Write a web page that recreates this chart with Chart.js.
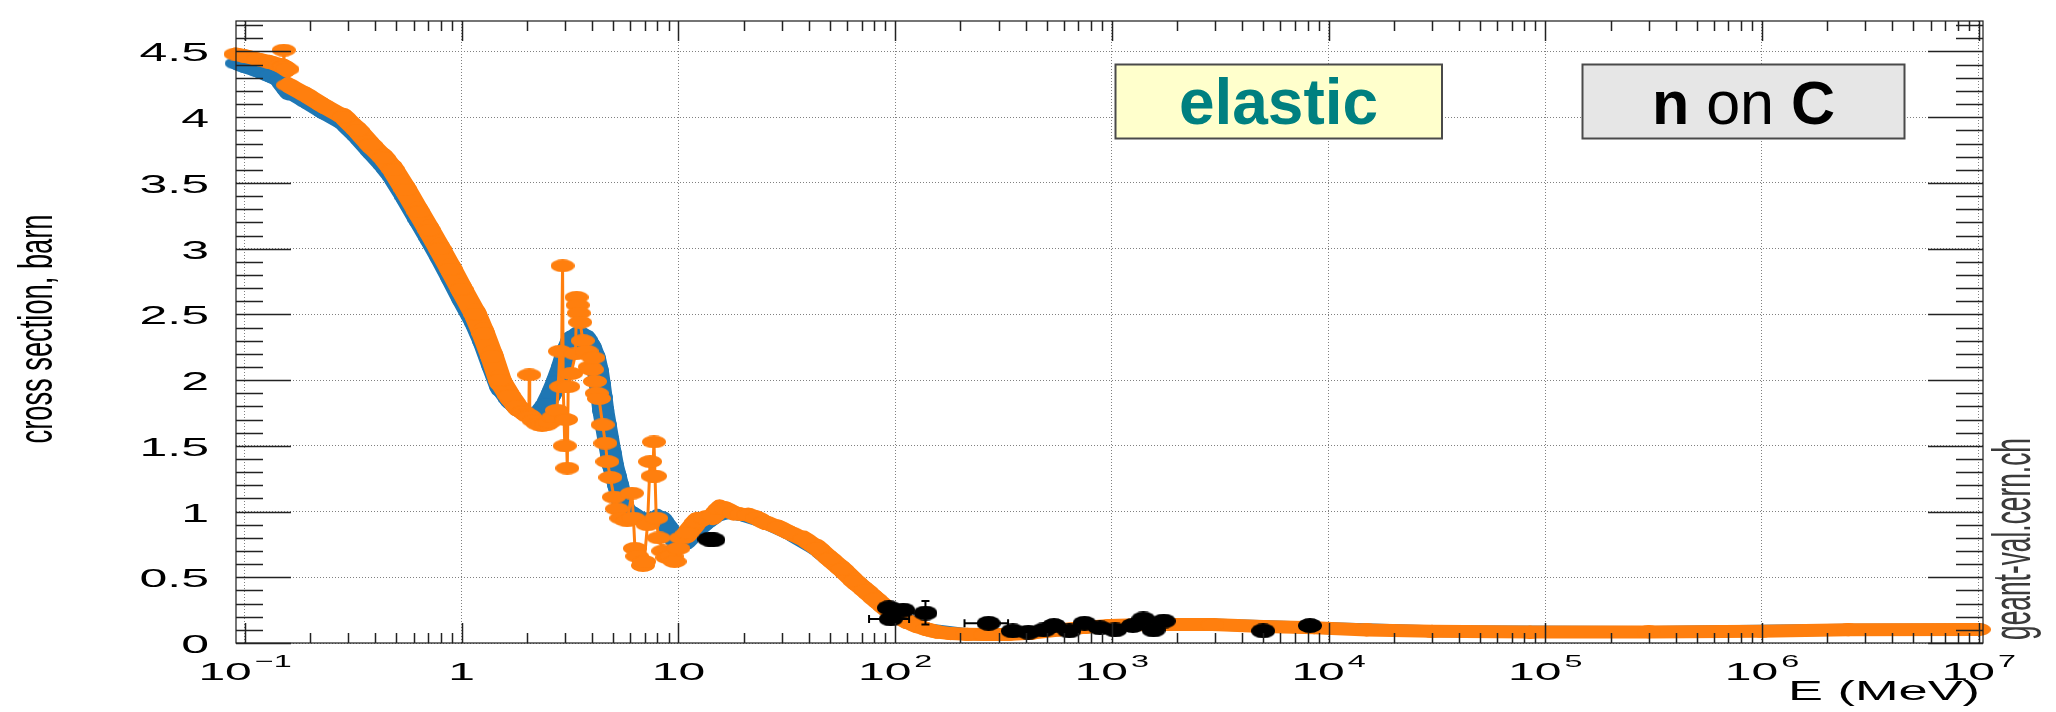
<!DOCTYPE html>
<html>
<head>
<meta charset="utf-8">
<script src="https://cdn.jsdelivr.net/npm/chart.js@4.4.0/dist/chart.umd.min.js"></script>
<style>
  html, body { margin: 0; padding: 0; background: #fff; overflow: hidden; }
  canvas { display: block; }
</style>
</head>
<body>
<canvas id="xs" width="2056" height="712"></canvas>
<script>
// Neutron elastic cross section on carbon. Energies in MeV, cross sections in barn.

// model curve (blue)
const modelEnergy = [0.0905, 0.100, 0.115, 0.130, 0.145, 0.158, 0.191, 0.229, 0.286, 0.331, 0.380, 0.437, 0.483,
  0.550, 0.631, 0.708, 0.791, 0.891, 1.00, 1.156, 1.259, 1.38, 1.50, 1.66, 1.80, 1.95, 2.10,
  2.30, 2.46, 2.60, 2.74, 2.90, 3.05, 3.20, 3.39, 3.60, 3.77, 3.95, 4.12, 4.25, 4.34, 4.42, 4.50, 4.62, 4.75, 4.88,
  5.00, 5.14, 5.28, 5.42, 5.56, 5.75, 5.97, 6.5, 7.0, 7.5, 8.0, 8.5, 9.0, 9.5, 10.2, 11.0, 12.0, 13.5, 15.0, 17.0,
  20.0, 25.0, 33.0, 44.0, 57.0, 73.0, 90.0, 112, 140, 215, 330, 570, 977, 2900, 8600, 30000, 3e5, 2.5e6, 1e7];
const modelXs = [4.41, 4.385, 4.35, 4.315, 4.28, 4.20, 4.12, 4.04, 3.95, 3.85, 3.74, 3.63, 3.54,
  3.39, 3.22, 3.08, 2.94, 2.78, 2.62, 2.43, 2.29, 2.11, 1.95, 1.85, 1.79, 1.76, 1.74,
  1.76, 1.82, 1.90, 1.99, 2.10, 2.22, 2.30, 2.34, 2.34, 2.31, 2.25, 2.17, 2.07, 1.97, 1.87, 1.77, 1.66, 1.545, 1.44,
  1.346, 1.27, 1.197, 1.12, 1.047, 1.01, 0.997, 0.96, 0.94, 0.95, 0.96, 0.93, 0.87, 0.80, 0.77, 0.78, 0.85, 0.92, 0.97, 0.99,
  0.97, 0.92, 0.83, 0.71, 0.56, 0.40, 0.27, 0.17, 0.105, 0.066, 0.065, 0.099, 0.133, 0.14, 0.116, 0.09, 0.084, 0.10, 0.103];

// evaluated data (orange)
const evalEnergy = [0.0905, 0.100, 0.115, 0.130, 0.145, 0.150, 0.151, 0.152, 0.157, 0.158,
  0.191, 0.229, 0.286, 0.331, 0.380, 0.437, 0.483, 0.550, 0.631, 0.708, 0.791, 0.891, 1.00, 1.156, 1.259, 1.38,
  1.50, 1.66, 1.80, 1.92, 2.00, 2.04, 2.05, 2.06, 2.15, 2.25, 2.35, 2.45, 2.55, 2.65, 2.75,
  2.84, 2.88, 2.92, 2.94, 2.99, 3.03, 3.07, 3.10, 3.20, 3.35, 3.39, 3.43, 3.47, 3.52, 3.62, 3.77, 3.90, 4.00, 4.05,
  4.12, 4.20, 4.30, 4.47, 4.60, 4.70, 4.85, 5.04, 5.20, 5.45, 5.80, 6.10, 6.20, 6.30, 6.45, 6.86, 6.95, 7.20, 7.40,
  7.60, 7.71, 7.80, 7.90, 8.10, 8.50, 8.89, 9.30, 9.60, 10.0, 10.3, 11.0, 12.1, 13.2, 14.5, 15.5, 16.5, 18.0, 19.5,
  21.0, 23.0, 25.0, 29.0, 33.0, 38.0, 44.0, 50.0, 57.0, 65.0, 73.0, 81.0, 90.0, 100, 112, 125, 140, 155, 180, 215,
  260, 330, 420, 570, 750, 977, 1300, 1700, 2900, 5000, 8600, 15000, 30000, 85000, 3e5, 1e6, 2.5e6, 1e7];
const evalXs = [4.48, 4.465, 4.44, 4.42, 4.395, 4.385, 4.51, 4.38, 4.365, 4.245,
  4.17, 4.09, 4.00, 3.90, 3.79, 3.69, 3.60, 3.45, 3.28, 3.14, 3.00, 2.845, 2.69, 2.50, 2.355, 2.18,
  2.00, 1.88, 1.80, 1.76, 1.74, 1.73, 2.04, 1.72, 1.69, 1.665, 1.655, 1.66, 1.68, 1.72, 1.77,
  2.22, 1.95, 2.87, 1.95, 1.50, 1.70, 1.33, 1.95, 2.05, 2.20, 2.63, 2.57, 2.51, 2.44, 2.30, 2.22, 2.10, 2.08, 2.17,
  1.99, 1.90, 1.86, 1.66, 1.52, 1.38, 1.26, 1.11, 1.02, 0.95, 0.93, 1.14, 0.95, 0.72, 0.66, 0.59, 0.62, 0.90, 1.38,
  1.27, 1.53, 1.27, 0.95, 0.80, 0.70, 0.65, 0.66, 0.62, 0.72, 0.80, 0.835, 0.92, 0.95, 0.97, 1.02, 1.02, 0.99, 0.98,
  0.975, 0.95, 0.92, 0.88, 0.835, 0.79, 0.72, 0.64, 0.56, 0.47, 0.40, 0.335, 0.27, 0.22, 0.17, 0.133, 0.105, 0.085, 0.072, 0.066,
  0.064, 0.065, 0.075, 0.099, 0.12, 0.133, 0.138, 0.14, 0.14, 0.126, 0.116, 0.099, 0.09, 0.083, 0.084, 0.09, 0.10, 0.103];

// measurements (black)
const expEnergy = [13.9, 14.5, 93.6, 95.5, 109, 138, 270, 349, 412, 485, 541, 636, 748, 881, 1036, 1250, 1397, 1557, 1735, 4990, 8200];
const expXs = [0.79, 0.785, 0.268, 0.183, 0.251, 0.228, 0.15, 0.092, 0.082, 0.099, 0.133, 0.092, 0.15, 0.116, 0.099, 0.133, 0.183, 0.099, 0.167, 0.092, 0.133];
const expEnergyLow  = [null, null, null, 75.8, null, null, 209, null, null, null, null, null, null, null, null, null, null, null, null, null, null];
const expEnergyHigh = [null, null, null, 116,  null, null, 332, null, null, null, null, null, null, null, null, null, null, null, null, null, null];
const expXsLow  = [null, null, 0.245, null, null, 0.14, null, null, null, null, null, null, null, null, null, null, null, null, null, null, null];
const expXsHigh = [null, null, 0.29,  null, null, 0.32, null, null, null, null, null, null, null, null, null, null, null, null, null, null, null];

// axes
const xTickValues = [0.1, 1, 10, 100, 1e3, 1e4, 1e5, 1e6, 1e7];
const xTickBase = ['10', '1', '10', '10', '10', '10', '10', '10', '10'];
const xTickPower = ['\u22121', '', '', '2', '3', '4', '5', '6', '7'];
const yTickValues = [0, 0.5, 1, 1.5, 2, 2.5, 3, 3.5, 4, 4.5];
const yTickLabels = ['0', '0.5', '1', '1.5', '2', '2.5', '3', '3.5', '4', '4.5'];

const xRange = [Math.pow(10, -1.0415), Math.pow(10, 7.0198)];
const yRange = [0, 4.732];

const FONT = '"Liberation Sans", Arial, Helvetica, sans-serif';
const BLUE = '#1f77b4', ORANGE = '#ff7f0e';

function ellipseSprite(w, h, color) {
  const c = document.createElement('canvas');
  c.width = w; c.height = h;
  const g = c.getContext('2d');
  g.fillStyle = color;
  g.beginPath();
  g.ellipse(w / 2, h / 2, w / 2, h / 2, 0, 0, Math.PI * 2);
  g.fill();
  return c;
}

const toPoints = (xs, ys) => xs.map((x, i) => ({ x, y: ys[i] }));

// Width of the band swept by an elliptical marker (half axes a, b) moving along a segment.
function sweptWidth(ctx, a, b) {
  const dx = ctx.p1.x - ctx.p0.x, dy = ctx.p1.y - ctx.p0.y;
  const len = Math.hypot(dx, dy) || 1;
  const s = dy / len, c = dx / len;
  return 2 * Math.sqrt(a * a * s * s + b * b * c * c);
}

// the resonance region is drawn with thin connecting lines, the smooth parts as a wide band
const inResonance = e => e > 1.97 && e < 10.5;
function evalSegmentWidth(ctx) {
  const e0 = evalEnergy[ctx.p0DataIndex], e1 = evalEnergy[ctx.p1DataIndex];
  if (inResonance(e0) || inResonance(e1)) return 3;
  if (Math.abs(Math.log10(e1 / e0)) < 0.004) return 3;
  return sweptWidth(ctx, 12, 6.5);
}
const modelSegmentWidth = ctx => sweptWidth(ctx, 11, 6);

function stretchedText(ctx, text, x, y, sx, align) {
  ctx.save();
  ctx.translate(x, y);
  ctx.scale(sx, 1);
  ctx.textAlign = align;
  ctx.fillText(text, 0, 0);
  ctx.restore();
}

// vertical text, squeezed or stretched along its length to a given extent
function verticalText(ctx, text, baselineX, centerY, length) {
  const w = ctx.measureText(text).width;
  ctx.save();
  ctx.translate(baselineX, centerY);
  ctx.rotate(-Math.PI / 2);
  ctx.scale(length / w, 1);
  ctx.textAlign = 'center';
  ctx.fillText(text, 0, 0);
  ctx.restore();
}

const rootFrame = {
  id: 'rootFrame',
  afterDatasetsDraw(chart) {
    const { ctx, scales: { x, y } } = chart;
    ctx.save();
    ctx.strokeStyle = '#000';
    ctx.lineWidth = 2;
    ctx.beginPath();
    expEnergy.forEach((e, i) => {
      const px = x.getPixelForValue(e), py = y.getPixelForValue(expXs[i]);
      if (expEnergyLow[i] !== null) {
        const l = x.getPixelForValue(expEnergyLow[i]), r = x.getPixelForValue(expEnergyHigh[i]);
        ctx.moveTo(l, py); ctx.lineTo(r, py);
        ctx.moveTo(l, py - 4); ctx.lineTo(l, py + 4);
        ctx.moveTo(r, py - 4); ctx.lineTo(r, py + 4);
      }
      if (expXsLow[i] !== null) {
        const b = y.getPixelForValue(expXsLow[i]), t = y.getPixelForValue(expXsHigh[i]);
        ctx.moveTo(px, b); ctx.lineTo(px, t);
        ctx.moveTo(px - 4, b); ctx.lineTo(px + 4, b);
        ctx.moveTo(px - 4, t); ctx.lineTo(px + 4, t);
      }
    });
    ctx.stroke();
    ctx.restore();
  },
  afterDraw(chart) {
    const { ctx, chartArea: a, scales: { x, y } } = chart;
    ctx.save();

    // frame
    ctx.strokeStyle = '#1a1a1a';
    ctx.lineWidth = 1.2;
    ctx.strokeRect(a.left, a.top, a.right - a.left, a.bottom - a.top);

    // tick marks on all four sides
    ctx.strokeStyle = '#222';
    ctx.lineWidth = 1.5;
    ctx.beginPath();
    for (let d = -2; d <= 7; d++) {
      for (let m = 1; m <= 9; m++) {
        const v = m * Math.pow(10, d);
        if (v < x.min || v > x.max) continue;
        const px = Math.round(x.getPixelForValue(v)) + 0.5;
        const len = m === 1 ? 20 : 10;
        ctx.moveTo(px, a.bottom); ctx.lineTo(px, a.bottom - len);
        ctx.moveTo(px, a.top); ctx.lineTo(px, a.top + len);
      }
    }
    for (let k = 0; k / 10 <= y.max; k++) {
      const py = Math.round(y.getPixelForValue(k / 10)) + 0.5;
      const len = k % 5 === 0 ? 55 : 27;
      ctx.moveTo(a.left, py); ctx.lineTo(a.left + len, py);
      ctx.moveTo(a.right, py); ctx.lineTo(a.right - len, py);
    }
    ctx.stroke();

    // tick labels
    ctx.fillStyle = '#000';
    ctx.textBaseline = 'alphabetic';
    ctx.font = `25px ${FONT}`;
    yTickValues.forEach((v, i) => {
      stretchedText(ctx, yTickLabels[i], 209, y.getPixelForValue(v) + 10, 2.0, 'right');
    });
    xTickValues.forEach((v, i) => {
      const px = x.getPixelForValue(v);
      ctx.font = `24px ${FONT}`;
      const wb = ctx.measureText(xTickBase[i]).width * 2.0;
      ctx.font = `17px ${FONT}`;
      const wp = xTickPower[i] ? ctx.measureText(xTickPower[i]).width * 1.9 + 3 : 0;
      const left = px - (wb + wp) / 2;
      ctx.font = `24px ${FONT}`;
      stretchedText(ctx, xTickBase[i], left, 680, 2.0, 'left');
      if (xTickPower[i]) {
        ctx.font = `17px ${FONT}`;
        stretchedText(ctx, xTickPower[i], left + wb + 3, 667, 1.9, 'left');
      }
    });

    // axis titles
    ctx.font = `28px ${FONT}`;
    const tW = ctx.measureText('E (MeV)').width;
    stretchedText(ctx, 'E (MeV)', 1980, 700, 192 / tW, 'right');

    ctx.font = `48px ${FONT}`;
    verticalText(ctx, 'cross section, barn', 52, 329, 229);

    ctx.font = `54px ${FONT}`;
    ctx.fillStyle = '#3a3a3a';
    verticalText(ctx, 'geant-val.cern.ch', 2030, 539, 202);

    // labels in boxes
    ctx.lineWidth = 2;
    ctx.strokeStyle = '#4a4a4a';
    ctx.fillStyle = '#ffffcc';
    ctx.fillRect(1115.5, 64.5, 326.5, 74);
    ctx.strokeRect(1115.5, 64.5, 326.5, 74);
    ctx.fillStyle = '#008080';
    ctx.font = `bold 64px ${FONT}`;
    ctx.textAlign = 'center';
    ctx.fillText('elastic', 1278.5, 124);

    ctx.fillStyle = '#e6e6e6';
    ctx.fillRect(1582.5, 64.5, 322, 74);
    ctx.strokeRect(1582.5, 64.5, 322, 74);
    const parts = [['n', 'bold'], [' on ', 'normal'], ['C', 'bold']];
    let total = 0;
    parts.forEach(p => { ctx.font = `${p[1]} 61px ${FONT}`; p.push(ctx.measureText(p[0]).width); total += p[2]; });
    let cx = 1743.5 - total / 2;
    ctx.fillStyle = '#000';
    ctx.textAlign = 'left';
    parts.forEach(p => { ctx.font = `${p[1]} 61px ${FONT}`; ctx.fillText(p[0], cx, 124); cx += p[2]; });

    ctx.restore();
  }
};

new Chart(document.getElementById('xs'), {
  type: 'scatter',
  data: {
    datasets: [
      {
        label: 'data',
        data: toPoints(expEnergy, expXs),
        pointStyle: ellipseSprite(24, 15, '#000'),
        pointRadius: 8,
        showLine: false,
        order: 0
      },
      {
        label: 'evaluation',
        data: toPoints(evalEnergy, evalXs),
        showLine: true,
        borderColor: ORANGE,
        backgroundColor: ORANGE,
        borderWidth: 13,
        borderCapStyle: 'round',
        borderJoinStyle: 'round',
        segment: { borderWidth: evalSegmentWidth },
        pointStyle: ellipseSprite(24, 13, ORANGE),
        pointRadius: 8,
        clip: false,
        order: 1
      },
      {
        label: 'model',
        data: toPoints(modelEnergy, modelXs),
        showLine: true,
        borderColor: BLUE,
        backgroundColor: BLUE,
        borderWidth: 12,
        borderCapStyle: 'round',
        borderJoinStyle: 'round',
        segment: { borderWidth: modelSegmentWidth },
        pointStyle: ellipseSprite(22, 12, BLUE),
        pointRadius: 8,
        clip: false,
        order: 2
      }
    ]
  },
  options: {
    responsive: false,
    animation: false,
    events: [],
    layout: { padding: { left: 236, right: 73, top: 11, bottom: 69 } },
    plugins: { legend: { display: false }, tooltip: { enabled: false } },
    scales: {
      x: {
        type: 'logarithmic',
        min: xRange[0],
        max: xRange[1],
        afterBuildTicks: s => { s.ticks = xTickValues.map(v => ({ value: v })); },
        afterFit: s => { s.height = 0; },
        ticks: { display: false },
        grid: { color: '#808080', lineWidth: 1, drawTicks: false },
        border: { display: false, dash: [1, 2] }
      },
      y: {
        type: 'linear',
        min: yRange[0],
        max: yRange[1],
        afterBuildTicks: s => { s.ticks = yTickValues.map(v => ({ value: v })); },
        afterFit: s => { s.width = 0; },
        ticks: { display: false },
        grid: { color: '#808080', lineWidth: 1, drawTicks: false },
        border: { display: false, dash: [1, 2] }
      }
    }
  },
  plugins: [rootFrame]
});
</script>
</body>
</html>
